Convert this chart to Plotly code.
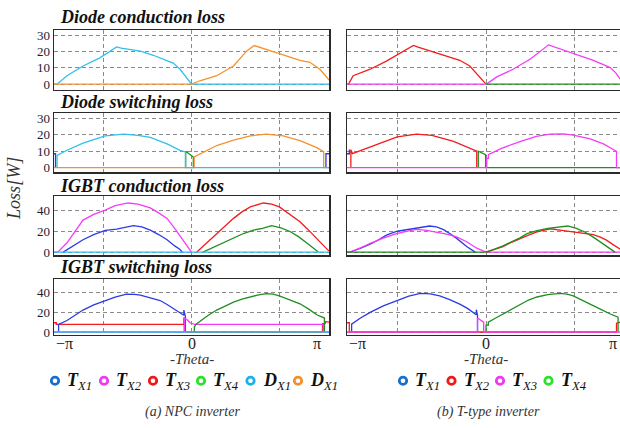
import plotly.graph_objects as go

# ---------------- data: theta in degrees, loss in W ----------------
# (a) NPC inverter
# Diode conduction loss
NPC_DC_DX1_X = [-180, -176, -163, -142, -120, -107, -98, -92, -80, -67, -50, -32, -24, -15, -6, 0, 180]
NPC_DC_DX1_Y = [0, 0, 5.2, 11.2, 16.2, 20.3, 22.9, 22.2, 21.2, 20.3, 17.8, 14.7, 13.0, 9.2, 3.8, 0, 0]
NPC_DC_DX1B_X = [-180, 0, 11, 33, 55, 72, 82, 88, 100, 114, 128, 142, 155, 168, 175, 180]
NPC_DC_DX1B_Y = [0, 0, 2.1, 5.2, 11.2, 20.3, 23.8, 22.8, 21.0, 18.9, 16.8, 14.7, 13.5, 9.2, 5.5, 2.5]
# Diode switching loss
NPC_DS_TX1_X = [-180, -178, -178, None, 176, 176, 180]
NPC_DS_TX1_Y = [8.5, 8.5, 0, None, 0, 8.5, 8.5]
NPC_DS_TX4_X = [-7.6, -7.6, 2.4, 2.4]
NPC_DS_TX4_Y = [0, 10, 6.5, 0]
NPC_DS_DX1_X = [-176, -176, -163, -142, -113, -89, -70, -54, -32, -15, -8, -8, 180]
NPC_DS_DX1_Y = [0, 7.5, 10.6, 14.9, 19.4, 20.4, 19.7, 18.4, 14.5, 10.6, 9.6, 0, 0]
NPC_DS_DX1B_X = [-180, 3.5, 3.5, 33, 55, 77, 98, 120, 142, 164, 173, 173, 180]
NPC_DS_DX1B_Y = [0, 0, 6.6, 13.5, 16.8, 19.4, 20.4, 19.3, 16.5, 12.2, 9.8, 0, 0]
# IGBT conduction loss
NPC_IC_TX1_X = [-168, -155, -142, -128, -113, -98, -86, -76, -65, -54, -43, -32, -22, -15, -12]
NPC_IC_TX1_Y = [0, 6, 12, 17, 21, 22.2, 24, 25.7, 24.5, 21.3, 17, 12, 6, 2.5, 0]
NPC_IC_TX2_X = [-180, -175, -163, -152, -142, -128, -113, -100, -83, -70, -54, -43, -32, -22, -13, -6, 0]
NPC_IC_TX2_Y = [0, 0, 9, 20, 31, 36.5, 40.6, 45, 47.6, 46.5, 42.9, 38, 32.7, 23, 13.6, 6, 0]
NPC_IC_TX3_X = [7, 20, 33, 45, 55, 66, 77, 94, 105, 115, 128, 142, 153, 164, 172, 180]
NPC_IC_TX3_Y = [0, 9, 18.4, 26, 32.7, 39, 43.8, 47.6, 46.5, 43.8, 37, 29.5, 21.5, 13.6, 7, 1]
NPC_IC_TX4_X = [15, 30, 42, 55, 68, 81, 93, 105, 117, 129, 140, 151, 160, 166]
NPC_IC_TX4_Y = [0, 5, 9.5, 13.6, 18, 21.3, 23, 25.7, 23.5, 20, 15, 8.9, 3.5, 0]
NPC_IC_DX1_X = [-180, 180]
NPC_IC_DX1_Y = [0, 0]
# IGBT switching loss
NPC_IS_TX1_X = [-174, -174, -163, -152, -142, -128, -113, -100, -85, -75, -67, -55, -41, -32, -24, -11, -10, -10, -8, -8]
NPC_IS_TX1_Y = [0, 7.8, 11.7, 17.5, 22.3, 27.5, 32, 35.5, 38.4, 38.3, 37.4, 35, 32, 28, 23.9, 17.5, 17, 22.3, 15.8, 0]
NPC_IS_TX2_X = [-180, -9, -9, -5, -2, 4, 172.5, 172.5, 180]
NPC_IS_TX2_Y = [0, 0, 14.2, 12, 9.4, 7.8, 7.8, 0, 0]
NPC_IS_TX3_X = [-180, -177, -177, -10, -10, -9.5, -9.5, 171.5, 171.5, 175, 175, 180]
NPC_IS_TX3_Y = [9.4, 9.4, 7.8, 7.8, 14.2, 14.2, 0, 0, 8.5, 8.5, 10.5, 10]
NPC_IS_TX4_X = [3.7, 3.7, 6, 11, 22, 33, 44, 55, 66, 77, 88, 98, 107, 115, 128, 142, 153, 164, 174, 174]
NPC_IS_TX4_Y = [0, 5, 8, 11, 17, 22.3, 26.5, 30.3, 33.5, 35.8, 37.8, 39, 38.5, 36.8, 33, 28.7, 23.5, 17.5, 14.2, 0]
NPC_IS_DX1_X = [-180, 180]
NPC_IS_DX1_Y = [0, 0]

# (b) T-type inverter
# Diode conduction loss
TT_DC_TX2_X = [-180, -178, -172, -150, -129, -114, -94, -88, -72, -51, -34, -21, -10, 0]
TT_DC_TX2_Y = [0, 0, 5.2, 9.2, 14.2, 18.3, 23.8, 22.8, 20.3, 17.3, 14.7, 11.2, 5.2, 0]
TT_DC_TX3_X = [-180, 0, 2, 14, 35, 57, 81, 88, 100, 113, 139, 161, 168, 174, 180]
TT_DC_TX3_Y = [0, 0, 0.5, 4.5, 9.2, 15.3, 24.2, 23, 21, 18.9, 14.7, 10.2, 7.0, 3.0, 0.5]
TT_DC_TX4_X = [0, 180]
TT_DC_TX4_Y = [0, 0]
# Diode switching loss
TT_DS_TX1_X = [-180, -177, -177]
TT_DS_TX1_Y = [8.5, 8.5, 11]
TT_DS_TX2_X = [-175, -175, -173, -150, -115, -90, -70, -42, -25, -12, -12]
TT_DS_TX2_Y = [0, 11, 8.6, 12.5, 18.8, 20.4, 19.6, 16, 12.8, 10, 0]
TT_DS_TX4_X = [-10, -10, -0.5, -0.5, 180]
TT_DS_TX4_Y = [0, 10, 8, 0, 0]
TT_DS_TX3_X = [-180, 1, 1, 3, 3, 20, 44, 65, 83, 100, 113, 135, 152, 169, 169, 180]
TT_DS_TX3_Y = [0, 0, 5.7, 5.7, 8, 11.8, 15.9, 19, 20.4, 20.6, 19.8, 17.5, 14.5, 10, 0, 0]
# IGBT conduction loss
TT_IC_TX1_X = [-180, -176, -163, -150, -139, -129, -115, -100, -86, -73, -64, -55, -46, -38, -25, -14]
TT_IC_TX1_Y = [0, 0, 3.5, 7.6, 12, 16.4, 20.2, 21.8, 23.4, 25.3, 24.5, 21.8, 17.5, 13.3, 5.4, 0]
TT_IC_TX3_X = [-180, -176, -163, -150, -133, -116, -100, -90, -77, -64, -51, -38, -25, -12, 0, 180]
TT_IC_TX3_Y = [0, 0, 4, 8.5, 13.5, 18, 20.5, 22, 21, 19.5, 17.5, 14.8, 10, 3.8, 0, 0]
TT_IC_TX2_X = [0, 11, 22, 33, 44, 55, 66, 83, 98, 113, 126, 139, 148, 156, 165, 174, 180]
TT_IC_TX2_Y = [0, 2.5, 5.4, 9.5, 13.3, 16.5, 19.5, 22.6, 21, 19.5, 18.5, 17, 14.5, 11.6, 7, 2.5, 0]
TT_IC_TX4_X = [-180, 0, 11, 22, 33, 44, 53, 66, 80, 97, 106, 117, 128, 139, 150, 160, 167]
TT_IC_TX4_Y = [0, 0, 2.8, 6, 10, 13.8, 17.9, 20.9, 23, 24.6, 25.3, 23, 19.5, 14.5, 8.5, 3, 0]
# IGBT switching loss
TT_IS_TX2_X = [-180, -177, -177, 169, 169, 174, 180]
TT_IS_TX2_Y = [9.4, 9.4, 0, 0, 9, 10, 10]
TT_IS_TX1_X = [-174, -174, -163, -150, -133, -115, -100, -85, -72, -60, -47, -34, -24, -14, -12.5, -12.5, -11, -11]
TT_IS_TX1_Y = [0, 8, 14, 20, 26.5, 32.3, 36.5, 39.3, 38.8, 36.7, 33, 28.3, 24, 18.3, 17.5, 22.7, 16.7, 0]
TT_IS_TX4_X = [0, 0, 3, 3, 12, 22, 33, 44, 55, 66, 80, 96, 105, 113, 126, 139, 150, 161, 171, 171]
TT_IS_TX4_Y = [0, 7, 7, 10, 14, 18.3, 23.5, 28.3, 32.5, 35.6, 38, 39.3, 38.5, 36.7, 32, 26.6, 22.5, 18.3, 15, 0]
TT_IS_TX3_X = [-180, -11, -11, -6, -3, -3, 180]
TT_IS_TX3_Y = [0, 0, 14.3, 12, 10, 0, 0]

# titles / ticks / labels
ROW_TITLES = ["Diode conduction loss", "Diode switching loss", "IGBT conduction loss", "IGBT switching loss"]
Y_TICKS_DIODE = [0, 10, 20, 30]
Y_TICKS_IGBT = [0, 20, 40]
X_GRID = [-114.6, 0, 114.6]
X_TICK_VALS = [-180, 0, 180]
X_TICK_TEXT = ["\u2212\u03c0", "0", "\u03c0"]
NPC_LEG_MAIN = ["T", "T", "T", "T", "D", "D"]
NPC_LEG_SUB = ["X1", "X2", "X3", "X4", "X1", "X1"]
TT_LEG_MAIN = ["T", "T", "T", "T"]
TT_LEG_SUB = ["X1", "X2", "X3", "X4"]
CAPTIONS = ["(a) NPC inverter", "(b) T-type inverter"]

# ---------------- styling ----------------
C_BLUE, C_MAG, C_RED, C_GREEN = "#2b3be6", "#f53cf5", "#f21c1c", "#1f8f1f"
C_CYAN, C_ORANGE = "#30bff0", "#f4922f"
L_BLUE, L_MAG, L_RED, L_GREEN, L_CYAN, L_ORANGE = "#1a70c8", "#f03af0", "#ee1a1a", "#2ee02e", "#1fb0ec", "#f0902e"
NPC_LEG_COLORS = [L_BLUE, L_MAG, L_RED, L_GREEN, L_CYAN, L_ORANGE]
TT_LEG_COLORS = [L_BLUE, L_RED, L_MAG, L_GREEN]
NPC_LEG_CX = [55, 104, 153, 201, 250.5, 298]
TT_LEG_CX = [403, 451.5, 500, 548.5]

# figure is a little wider than the 620 px window: the right panels run off the edge as in the original
W, H = 627, 428
SERIF = "Liberation Serif"


def px(x):
    return x / W


def py(y):
    return 1 - y / H


COL_X = [(54, 329), (347, 625)]
ROW_Y = [(28.7, 89), (113.3, 173.3), (197.3, 257.3), (281.7, 338.3)]
X_RANGE = [-180, 180]
Y_RANGES = [[-3.3, 33.2], [-2.9, 33.0], [-2.9, 54.3], [-2.8, 53.8]]

PANELS = {
    (0, 0): [(NPC_DC_DX1_X, NPC_DC_DX1_Y, C_CYAN), (NPC_DC_DX1B_X, NPC_DC_DX1B_Y, C_ORANGE)],
    (1, 0): [(NPC_DS_TX1_X, NPC_DS_TX1_Y, C_BLUE), (NPC_DS_TX4_X, NPC_DS_TX4_Y, C_GREEN),
             (NPC_DS_DX1B_X, NPC_DS_DX1B_Y, C_ORANGE), (NPC_DS_DX1_X, NPC_DS_DX1_Y, C_CYAN)],
    (2, 0): [(NPC_IC_TX2_X, NPC_IC_TX2_Y, C_MAG), (NPC_IC_TX1_X, NPC_IC_TX1_Y, C_BLUE),
             (NPC_IC_TX3_X, NPC_IC_TX3_Y, C_RED), (NPC_IC_TX4_X, NPC_IC_TX4_Y, C_GREEN),
             (NPC_IC_DX1_X, NPC_IC_DX1_Y, C_CYAN)],
    (3, 0): [(NPC_IS_TX3_X, NPC_IS_TX3_Y, C_RED), (NPC_IS_TX1_X, NPC_IS_TX1_Y, C_BLUE),
             (NPC_IS_TX2_X, NPC_IS_TX2_Y, C_MAG), (NPC_IS_TX4_X, NPC_IS_TX4_Y, C_GREEN),
             (NPC_IS_DX1_X, NPC_IS_DX1_Y, C_CYAN)],
    (0, 1): [(TT_DC_TX2_X, TT_DC_TX2_Y, C_RED), (TT_DC_TX3_X, TT_DC_TX3_Y, C_MAG),
             (TT_DC_TX4_X, TT_DC_TX4_Y, C_GREEN)],
    (1, 1): [(TT_DS_TX1_X, TT_DS_TX1_Y, C_BLUE), (TT_DS_TX2_X, TT_DS_TX2_Y, C_RED),
             (TT_DS_TX4_X, TT_DS_TX4_Y, C_GREEN), (TT_DS_TX3_X, TT_DS_TX3_Y, C_MAG)],
    (2, 1): [(TT_IC_TX1_X, TT_IC_TX1_Y, C_BLUE), (TT_IC_TX3_X, TT_IC_TX3_Y, C_MAG),
             (TT_IC_TX2_X, TT_IC_TX2_Y, C_RED), (TT_IC_TX4_X, TT_IC_TX4_Y, C_GREEN)],
    (3, 1): [(TT_IS_TX2_X, TT_IS_TX2_Y, C_RED), (TT_IS_TX1_X, TT_IS_TX1_Y, C_BLUE),
             (TT_IS_TX4_X, TT_IS_TX4_Y, C_GREEN), (TT_IS_TX3_X, TT_IS_TX3_Y, C_MAG)],
}

fig = go.Figure()
layout = dict(
    width=W, height=H, margin=dict(l=0, r=0, t=0, b=0),
    paper_bgcolor="white", plot_bgcolor="white", showlegend=False,
    font=dict(family=SERIF, color="#222"),
)
annotations = []
shapes = []

for r in range(4):
    for c in range(2):
        n = r * 2 + c + 1
        sfx = "" if n == 1 else str(n)
        xa, ya = "x" + sfx, "y" + sfx
        for xs, ys, col in PANELS[(r, c)]:
            fig.add_trace(go.Scatter(x=xs, y=ys, mode="lines", line=dict(color=col, width=1.3),
                                     xaxis=xa, yaxis=ya, hoverinfo="skip", showlegend=False))
        x0, x1 = COL_X[c]
        yt, yb = ROW_Y[r]
        layout["xaxis" + sfx] = dict(
            domain=[px(x0), px(x1)], range=X_RANGE, anchor=ya,
            tickmode="array", tickvals=X_GRID, showticklabels=False, ticks="",
            showgrid=True, gridcolor="#8a8a8a", gridwidth=1, griddash="4px,3px",
            zeroline=False, showline=True, mirror=True, linecolor="#2a2a2a", linewidth=1.5,
            fixedrange=True,
        )
        layout["yaxis" + sfx] = dict(
            domain=[py(yb), py(yt)], range=Y_RANGES[r], anchor=xa,
            tickmode="array", tickvals=(Y_TICKS_DIODE if r < 2 else Y_TICKS_IGBT),
            showticklabels=(c == 0), ticks="",
            tickfont=dict(family=SERIF, size=13, color="#1c1c38"),
            showgrid=True, gridcolor="#8a8a8a", gridwidth=1, griddash="4px,3px",
            zeroline=False, showline=True, mirror=True, linecolor="#2a2a2a", linewidth=1.5,
            fixedrange=True,
        )
        if r == 3:
            for tv, tt in zip(X_TICK_VALS, X_TICK_TEXT):
                # position of the tick on this panel's x scale, in paper units
                xpix = x0 + (tv - X_RANGE[0]) / (X_RANGE[1] - X_RANGE[0]) * (x1 - x0)
                anc = "left" if tv < 0 else ("right" if tv > 0 else "center")
                annotations.append(dict(
                    xref="paper", yref="paper", x=px(xpix), y=py(347), xanchor=anc, yanchor="middle",
                    xshift=(-6 if tv > 0 else 0), text=tt, showarrow=False,
                    font=dict(family=SERIF, size=16, color="#222")))
            annotations.append(dict(
                xref=xa, yref="paper", x=0, y=py(363), xanchor="center", yanchor="middle",
                text="<i>-Theta-</i>", showarrow=False,
                font=dict(family=SERIF, size=15, color="#333")))

# row titles
TITLE_Y = [15, 101.5, 187, 269]
for t, yy in zip(ROW_TITLES, TITLE_Y):
    annotations.append(dict(
        xref="paper", yref="paper", x=px(58), y=py(yy), xanchor="left", yanchor="middle",
        text="<b><i>%s</i></b>" % t, showarrow=False,
        font=dict(family=SERIF, size=18, color="#111")))

# y label
annotations.append(dict(
    xref="paper", yref="paper", x=px(14), y=py(190), xanchor="center", yanchor="middle",
    text="<i>Loss[W]</i>", textangle=-90, showarrow=False,
    font=dict(family=SERIF, size=18, color="#333")))

# legends (drawn manually)
LEG_Y = 385
for cxs, mains, subs, cols in [(NPC_LEG_CX, NPC_LEG_MAIN, NPC_LEG_SUB, NPC_LEG_COLORS),
                               (TT_LEG_CX, TT_LEG_MAIN, TT_LEG_SUB, TT_LEG_COLORS)]:
    for cx, m, s, col in zip(cxs, mains, subs, cols):
        rr = 3.7
        shapes.append(dict(type="circle", xref="paper", yref="paper",
                           x0=px(cx - rr), x1=px(cx + rr), y0=py(LEG_Y + rr), y1=py(LEG_Y - rr),
                           line=dict(color=col, width=2.8), fillcolor="rgba(0,0,0,0)"))
        annotations.append(dict(
            xref="paper", yref="paper", x=px(cx + 10), y=py(LEG_Y + 1), xanchor="left", yanchor="middle",
            text="<b><i>%s</i></b><sub><i>%s</i></sub>" % (m, s), showarrow=False,
            font=dict(family=SERIF, size=18, color="#111")))

# captions
for cap, cx in zip(CAPTIONS, [192, 488]):
    annotations.append(dict(
        xref="paper", yref="paper", x=px(cx), y=py(417), xanchor="center", yanchor="middle",
        text="<i>%s</i>" % cap, showarrow=False,
        font=dict(family=SERIF, size=14, color="#333")))

layout["annotations"] = annotations
layout["shapes"] = shapes
fig.update_layout(**layout)
fig.write_html(
    "out.html",
    config={"displayModeBar": False, "staticPlot": True},
    post_script="document.body.style.margin='0';document.body.style.padding='0';"
                "document.body.style.overflow='hidden';document.documentElement.style.overflow='hidden';",
)
